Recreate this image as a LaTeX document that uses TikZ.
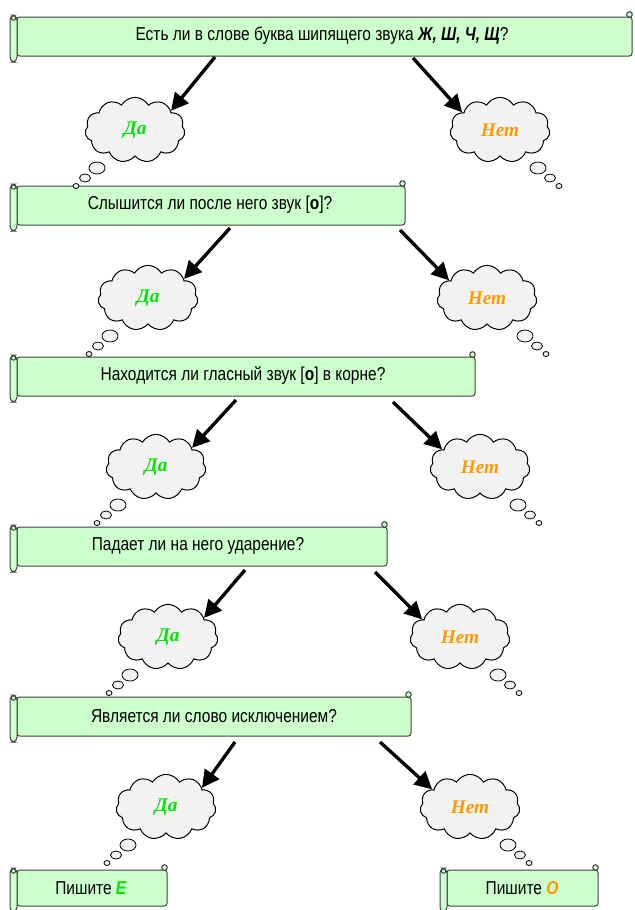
\documentclass[tikz,border=0pt]{standalone}
\usepackage{fontspec}
\setmainfont[FakeStretch=0.83]{Liberation Sans}
\newfontfamily\cloudfont{Liberation Serif}
\usetikzlibrary{shapes.symbols,arrows.meta}
\definecolor{scrollgreen}{HTML}{CCFFCC}
\definecolor{scrolledge}{HTML}{404040}
\definecolor{cloudgray}{HTML}{F2F2F2}
\definecolor{dagreen}{HTML}{00E600}
\definecolor{netorange}{HTML}{FF9900}
\tikzset{
  scroll/.style={draw=scrolledge, fill=scrollgreen, line width=0.75},
  qtext/.style={inner sep=0.75pt, font=\fontsize{14}{16}\selectfont},
  thought/.style={cloud, cloud puffs=11, cloud puff arc=120, aspect=1.5, draw=black, fill=cloudgray, line width=0.75,
    minimum width=75pt, minimum height=49pt, inner sep=0pt, font=\cloudfont\bfseries\itshape\fontsize{14.5}{16}\selectfont},
  bubble/.style={draw=black, fill=cloudgray, line width=0.6},
  yesno/.style={-{Triangle[length=13pt,width=13pt]}, line width=2.5pt},
}

\begin{document}
\begin{tikzpicture}[x=0.75pt,y=0.75pt,yscale=-1,xscale=1]
    \useasboundingbox (0,0) rectangle (635,910);

    %Shape: Horizontal Scroll
    \foreach \l/\t/\r/\b in {10/17/632/56, 10/186/405/225, 10/357/475/396, 10/527/387/566, 10/697/411/736, 10/870/167/906, 440/870/598/906}{
        \draw [scroll, rounded corners=2] (\l+7,\t) rectangle (\r,\b);
        \draw [scroll] (\r-2.5,\t-2.5) circle [radius=2.8];
        \draw [scroll, rounded corners=3.5] (\l,\t-2) rectangle (\l+7,\b+6);
        \draw [scroll] (\l+3.5,\t+1) circle [radius=2.2];
    }

    % Text Node
    \node [qtext] (q1) at (322,36) {Есть ли в слове буква шипящего звука \textbf{\textit{Ж, Ш, Ч, Щ}}?};
    % Text Node
    \node [qtext] (q2) at (210,205) {Слышится ли после него звук [\textbf{о}]?};
    % Text Node
    \node [qtext] (q3) at (243,376) {Находится ли гласный звук [\textbf{о}] в корне?};
    % Text Node
    \node [qtext] (q4) at (198,546) {Падает ли на него ударение?};
    % Text Node
    \node [qtext] (q5) at (214,716) {Является ли слово исключением?};
    % Text Node
    \node [qtext] (fin1) at (91,888) {Пишите \textcolor{dagreen}{\textbf{\textit{Е}}}};
    % Text Node
    \node [qtext] (fin2) at (522,888) {Пишите \textcolor{netorange}{\textbf{\textit{О}}}};

    %Shape: Cloud
    \node [thought, text=dagreen] (da1) at (135,130) {Да};
    \node [thought, text=netorange] (net1) at (500,130) {Нет};
    \node [thought, text=dagreen] (da2) at (148,298) {Да};
    \node [thought, text=netorange] (net2) at (487,298) {Нет};
    \node [thought, text=dagreen] (da3) at (156,467) {Да};
    \node [thought, text=netorange] (net3) at (480,467) {Нет};
    \node [thought, text=dagreen] (da4) at (168,637) {Да};
    \node [thought, text=netorange] (net4) at (460,637) {Нет};
    \node [thought, text=dagreen] (da5) at (166,807) {Да};
    \node [thought, text=netorange] (net5) at (470,807) {Нет};

    %Shape: Thought bubbles
    \foreach \c/\s in {da1/-1, net1/1, da2/-1, net2/1, da3/-1, net3/1, da4/-1, net4/1, da5/-1, net5/1}{
        \draw [bubble] (\c.center) ++(\s*38,38) ellipse [x radius=8, y radius=6]
            ++(\s*12,10) ellipse [x radius=5.5, y radius=4]
            ++(\s*9,8) ellipse [x radius=3, y radius=2.5];
    }

    %Straight Lines
    \coordinate (sy1) at (215,57);  \coordinate (sn1) at (413,58);
    \coordinate (sy2) at (230,228); \coordinate (sn2) at (400,230);
    \coordinate (sy3) at (236,400); \coordinate (sn3) at (393,402);
    \coordinate (sy4) at (245,570); \coordinate (sn4) at (375,572);
    \coordinate (sy5) at (235,742); \coordinate (sn5) at (380,742);
    \foreach \i in {1,...,5}{
        \draw [yesno] (sy\i) -- (da\i.28);
        \draw [yesno] (sn\i) -- (net\i.155);
    }

\end{tikzpicture}
\end{document}
